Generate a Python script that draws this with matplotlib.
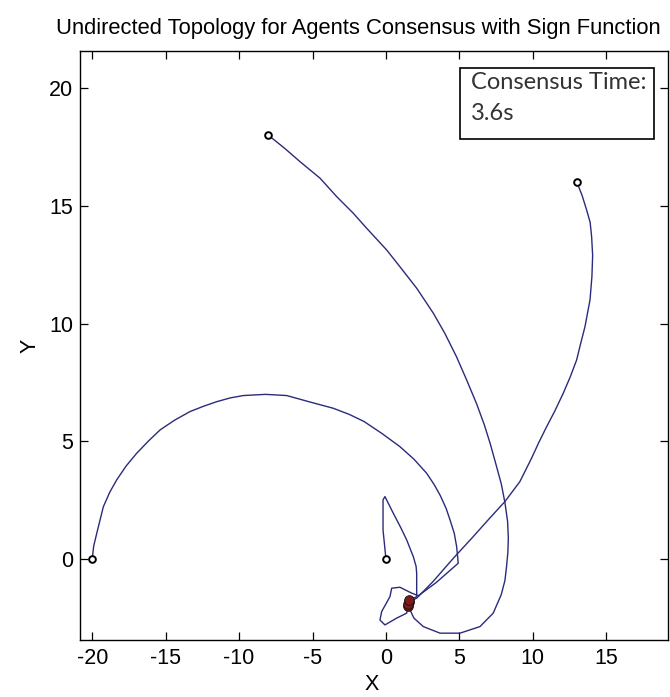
import matplotlib
matplotlib.use("Agg")
import matplotlib.pyplot as plt
from matplotlib.patches import Rectangle

# Agent trajectories (x, y)
agent_a_x = [-8.0, -6.9, -5.85, -4.49, -3.36, -2.24, -1.31, 0.05, 0.95, 2.1, 3.22, 4.0, 4.8, 5.5, 6.17, 6.7, 7.1, 7.5, 7.85, 8.1, 8.28, 8.33, 8.3, 8.21, 8.1, 7.85, 7.3, 6.4, 5.04, 3.68, 2.54, 1.9, 1.53]
agent_a_y = [18.0, 17.45, 16.88, 16.18, 15.4, 14.7, 14.05, 13.13, 12.42, 11.5, 10.45, 9.6, 8.6, 7.6, 6.6, 5.7, 4.9, 4.0, 3.2, 2.4, 1.6, 0.9, 0.3, -0.3, -0.9, -1.5, -2.29, -2.86, -3.14, -3.14, -2.86, -2.5, -2.0]

agent_b_x = [13.0, 13.35, 13.66, 13.9, 14.0, 14.07, 14.02, 13.89, 13.55, 13.25, 12.98, 12.55, 12.07, 11.5, 10.94, 10.4, 9.92, 9.12, 8.1, 7.0, 5.94, 4.6, 3.2, 2.1, 1.56]
agent_b_y = [16.0, 15.45, 14.83, 14.3, 13.7, 12.9, 12.0, 11.01, 9.88, 9.15, 8.46, 7.75, 7.05, 6.3, 5.63, 4.95, 4.3, 3.3, 2.45, 1.7, 0.96, 0.05, -0.95, -1.65, -1.82]

agent_c_x = [-20.0, -19.9, -19.69, -19.24, -18.8, -18.33, -17.7, -16.97, -16.2, -15.38, -14.4, -13.34, -12.4, -11.52, -10.6, -9.71, -8.2, -6.76, -5.2, -3.59, -2.5, -1.5, -0.3, 0.95, 1.9, 2.77, 3.3, 3.7, 4.1, 4.36, 4.65, 4.81, 4.92, 3.4, 2.2, 1.75, 0.95, 0.39, 0.27, -0.29, -0.41, -0.07, 0.73, 1.41, 1.52]
agent_c_y = [0.0, 0.55, 1.1, 2.23, 2.85, 3.37, 3.95, 4.5, 5.0, 5.49, 5.9, 6.27, 6.5, 6.69, 6.85, 6.95, 7.0, 6.95, 6.68, 6.41, 6.15, 5.85, 5.35, 4.78, 4.25, 3.65, 3.15, 2.7, 2.15, 1.67, 1.1, 0.54, -0.17, -1.0, -1.55, -1.44, -1.19, -1.23, -1.59, -2.22, -2.58, -2.79, -2.5, -2.29, -1.92]

agent_d_x = [0.0, -0.2, -0.2, -0.07, 0.5, 1.0, 1.41, 1.86, 2.05, 2.09, 2.09, 1.55]
agent_d_y = [0.0, 1.24, 2.52, 2.66, 1.95, 1.35, 0.82, 0.11, -0.3, -0.59, -1.59, -1.74]

x_ticks = [-20, -15, -10, -5, 0, 5, 10, 15]
y_ticks = [0, 5, 10, 15, 20]

title_text = "Undirected Topology for Agents Consensus with Sign Function"
note_lines = ["Consensus Time:", "3.6s"]

LINE_COLOR = "#2b2b7b"


def main():
    plt.rcParams["font.family"] = ["Liberation Sans", "DejaVu Sans"]

    W, H = 670, 697
    fig = plt.figure(figsize=(W / 100, H / 100), dpi=100)
    fig.patch.set_facecolor("white")

    # axes box in pixels: left 80, right 668, top 51, bottom 640
    ax = fig.add_axes([80 / W, 1 - 640 / H, 588 / W, 589 / H])

    agents = [(agent_a_x, agent_a_y), (agent_b_x, agent_b_y),
              (agent_c_x, agent_c_y), (agent_d_x, agent_d_y)]

    for xs, ys in agents:
        ax.plot(xs, ys, color=LINE_COLOR, linewidth=1.0, zorder=2,
                solid_joinstyle="round")

    # start positions
    for xs, ys in agents:
        ax.plot(xs[0], ys[0], "o", markersize=4.8, markerfacecolor="white",
                markeredgecolor="black", markeredgewidth=1.4, zorder=3)

    # final positions (clustered)
    for xs, ys in agents:
        ax.plot(xs[-1], ys[-1], "o", markersize=7, markerfacecolor="#7a1c1c",
                markeredgecolor="#1a0a0a", markeredgewidth=0.6, zorder=4)

    ax.set_xlim(-20.83, 19.2)
    ax.set_ylim(-3.43, 21.58)
    ax.set_xticks(x_ticks)
    ax.set_yticks(y_ticks)
    ax.set_xticklabels([str(t) for t in x_ticks])
    ax.set_yticklabels([str(t) for t in y_ticks])

    ax.tick_params(direction="in", length=5.5, width=0.9, top=True, right=True,
                   labelsize=15.5, colors="black")
    ax.tick_params(axis="x", pad=6)
    ax.tick_params(axis="y", pad=5)
    for spine in ax.spines.values():
        spine.set_linewidth(1.0)
        spine.set_color("black")

    # title and axis labels
    fig.text(358 / W, 1 - 34 / H, title_text, ha="center", va="baseline",
             fontsize=15.8, color="black")
    fig.text(372 / W, 2 / H, "X", ha="center", va="bottom",
             fontsize=15.5, color="black")
    fig.text(30 / W, 1 - 345.5 / H, "Y", ha="center", va="center",
             rotation=90, fontsize=15.5, color="black")

    # consensus time box
    box = Rectangle((460 / W, 1 - 139.3 / H), 194 / W, 71 / H,
                    transform=fig.transFigure, facecolor="white",
                    edgecolor="black", linewidth=1.2, zorder=5)
    fig.patches.append(box)
    fig.text(470.7 / W, 1 - 89.3 / H, note_lines[0], ha="left", va="baseline",
             fontsize=17, family=["Lato", "DejaVu Sans"], color="#333333", zorder=6)
    fig.text(470.7 / W, 1 - 120 / H, note_lines[1], ha="left", va="baseline",
             fontsize=17, family=["Lato", "DejaVu Sans"], color="#333333", zorder=6)

    fig.savefig("out.png", dpi=100, facecolor="white")


if __name__ == "__main__":
    main()
